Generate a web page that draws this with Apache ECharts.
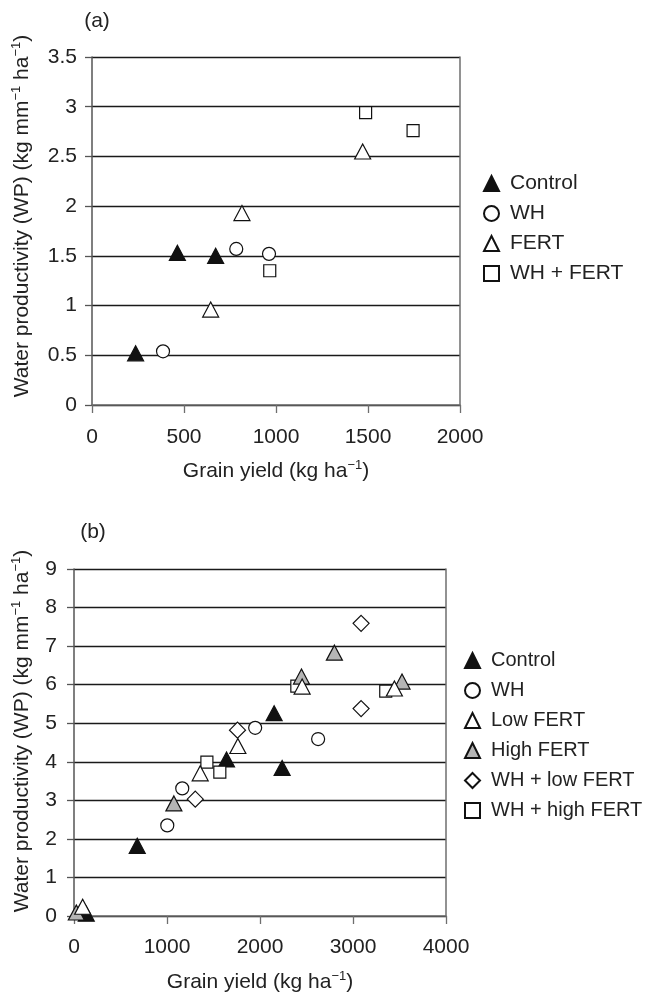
<!DOCTYPE html>
<html><head><meta charset="utf-8">
<script src="https://cdn.jsdelivr.net/npm/echarts@6/dist/echarts.min.js"></script>
<style>html,body{margin:0;padding:0;background:#fff}#c{width:651px;height:998px}</style>
</head><body><div id="c"></div>
<script>
// ---- axis ranges [min, max, interval] ----
const aXRange = [0, 2000, 500];
const aYRange = [0, 3.5, 0.5];
const bXRange = [0, 4000, 1000];
const bYRange = [0, 9, 1];

// ---- panel (a) data: [grain yield, WP] ----
const aControl = [[237, 0.52], [464, 1.53], [672, 1.50]];
const aWH      = [[386, 0.54], [784, 1.57], [962, 1.52]];
const aFERT    = [[645, 0.96], [815, 1.93], [1471, 2.55]];
const aWHFERT  = [[966, 1.35], [1487, 2.94], [1745, 2.76]];

// ---- panel (b) data ----
const bControl  = [[132, 0.06], [680, 1.82], [1640, 4.06], [2152, 5.26], [2238, 3.84]];
const bWH       = [[1003, 2.35], [1164, 3.31], [1948, 4.88], [2625, 4.59]];
const bLowFERT  = [[93, 0.24], [1357, 3.70], [1762, 4.41], [2453, 5.95], [3445, 5.90]];
const bHighFERT = [[25, 0.09], [1074, 2.92], [2446, 6.21], [2800, 6.83], [3527, 6.08]];
const bWHLow    = [[1304, 3.03], [1758, 4.82], [3087, 7.59], [3087, 5.38]];
const bWHHigh   = [[1429, 3.99], [1568, 3.73], [2396, 5.96], [3352, 5.83]];

const aLegend = ['Control', 'WH', 'FERT', 'WH + FERT'];
const bLegend = ['Control', 'WH', 'Low FERT', 'High FERT', 'WH + low FERT', 'WH + high FERT'];

const FONT = "'Liberation Sans', Arial, Helvetica, sans-serif";
const TXT = '#222';
const FS = 21;
const plain = v => String(v);

function xAxisOf(gi, r, gap, label) {
  return {
    gridIndex: gi, type: 'value', min: r[0], max: r[1], interval: r[2],
    axisLine: { show: true, onZero: false, lineStyle: { color: '#6e6e6e', width: 1.5 } },
    axisTick: { show: true, inside: false, length: 8, lineStyle: { color: '#6e6e6e', width: 1.3 } },
    axisLabel: { show: true, margin: label, fontSize: FS, color: TXT, fontFamily: FONT, formatter: plain },
    splitLine: { show: false },
    name: '{m|Grain yield (kg ha}{s|\u22121}{m|)}',
    nameLocation: 'middle', nameGap: gap,
    nameTextStyle: {
      rich: {
        m: { fontSize: FS, fontFamily: FONT, color: TXT, lineHeight: 24 },
        s: { fontSize: 13, fontFamily: FONT, color: TXT, lineHeight: 14, verticalAlign: 'top' }
      }
    }
  };
}
function yAxisOf(gi, r, margin) {
  return {
    gridIndex: gi, type: 'value', min: r[0], max: r[1], interval: r[2],
    axisLine: { show: true, lineStyle: { color: '#555', width: 1.5 } },
    axisTick: { show: true, inside: false, length: 7, lineStyle: { color: '#555', width: 1.3 } },
    axisLabel: { show: true, margin: margin, fontSize: FS, color: TXT, fontFamily: FONT, formatter: plain },
    splitLine: { show: true, lineStyle: { color: '#1a1a1a', width: 1.4 } }
  };
}
function rightBorder(gi, r) {
  return {
    gridIndex: gi, type: 'value', position: 'right', min: r[0], max: r[1], interval: r[2],
    axisLine: { show: true, lineStyle: { color: '#6e6e6e', width: 1.5 } },
    axisTick: { show: false }, axisLabel: { show: false }, splitLine: { show: false }
  };
}
function sc(name, data, gi, symbol, size, fill, z) {
  return {
    type: 'scatter', name: name, data: data, xAxisIndex: gi, yAxisIndex: gi * 2,
    symbol: symbol, symbolSize: size, z: z || 2,
    itemStyle: { color: fill, borderColor: '#111', borderWidth: 1.2, opacity: 1 },
    emphasis: { disabled: true }
  };
}
const TRI = [16, 15];
const WHITE = '#ffffff', BLACK = '#111111', GREY = '#b5b5b5';

function legendOf(left, top, fs, data) {
  return {
    orient: 'vertical', left: left, top: top, padding: 0, itemWidth: 15, itemHeight: 15, itemGap: 9,
    textStyle: { fontSize: fs, fontFamily: FONT, color: TXT, lineHeight: 21, padding: [0, 0, 0, 6] },
    selectedMode: false, data: data
  };
}

const yTitleRich = {
  m: { fontSize: FS, fontFamily: FONT, fill: TXT, lineHeight: 24 },
  s: { fontSize: 13, fontFamily: FONT, fill: TXT, lineHeight: 14, verticalAlign: 'top' }
};
const yTitleText = '{m|Water productivity (WP) (kg mm}{s|\u22121}{m| ha}{s|\u22121}{m|)}';

const chart = echarts.init(document.getElementById('c'), null, { renderer: 'canvas' });
chart.setOption({
  backgroundColor: '#ffffff',
  animation: false,
  grid: [
    { left: 92, top: 57, width: 368, height: 348, outerBoundsMode: 'none' },
    { left: 74, top: 569, width: 372, height: 347, outerBoundsMode: 'none' }
  ],
  xAxis: [xAxisOf(0, aXRange, 54, 22), xAxisOf(1, bXRange, 54, 21)],
  yAxis: [yAxisOf(0, aYRange, 15), rightBorder(0, aYRange), yAxisOf(1, bYRange, 17), rightBorder(1, bYRange)],
  legend: [
    legendOf(483, 173, 21, aLegend),
    legendOf(464, 650, 20, bLegend)
  ],
  graphic: [
    { type: 'text', x: 97, y: 21, style: { text: '(a)', fontSize: FS, fontFamily: FONT, fill: TXT, align: 'center', verticalAlign: 'middle' } },
    { type: 'text', x: 93, y: 532, style: { text: '(b)', fontSize: FS, fontFamily: FONT, fill: TXT, align: 'center', verticalAlign: 'middle' } },
    { type: 'text', x: 22, y: 216, rotation: Math.PI / 2, style: { text: yTitleText, rich: yTitleRich, align: 'center', verticalAlign: 'middle' } },
    { type: 'text', x: 22, y: 731, rotation: Math.PI / 2, style: { text: yTitleText, rich: yTitleRich, align: 'center', verticalAlign: 'middle' } }
  ],
  series: [
    sc('Control', aControl, 0, 'triangle', TRI, BLACK),
    sc('WH', aWH, 0, 'circle', 13, WHITE),
    sc('FERT', aFERT, 0, 'triangle', TRI, WHITE),
    sc('WH + FERT', aWHFERT, 0, 'rect', 12, WHITE),
    sc('Control', bControl, 1, 'triangle', TRI, BLACK),
    sc('WH', bWH, 1, 'circle', 13, WHITE),
    sc('WH + high FERT', bWHHigh, 1, 'rect', 12, WHITE),
    sc('WH + low FERT', bWHLow, 1, 'diamond', 16, WHITE),
    sc('High FERT', bHighFERT, 1, 'triangle', TRI, GREY),
    sc('Low FERT', bLowFERT, 1, 'triangle', TRI, WHITE, 3)
  ]
});
</script>
</body></html>
